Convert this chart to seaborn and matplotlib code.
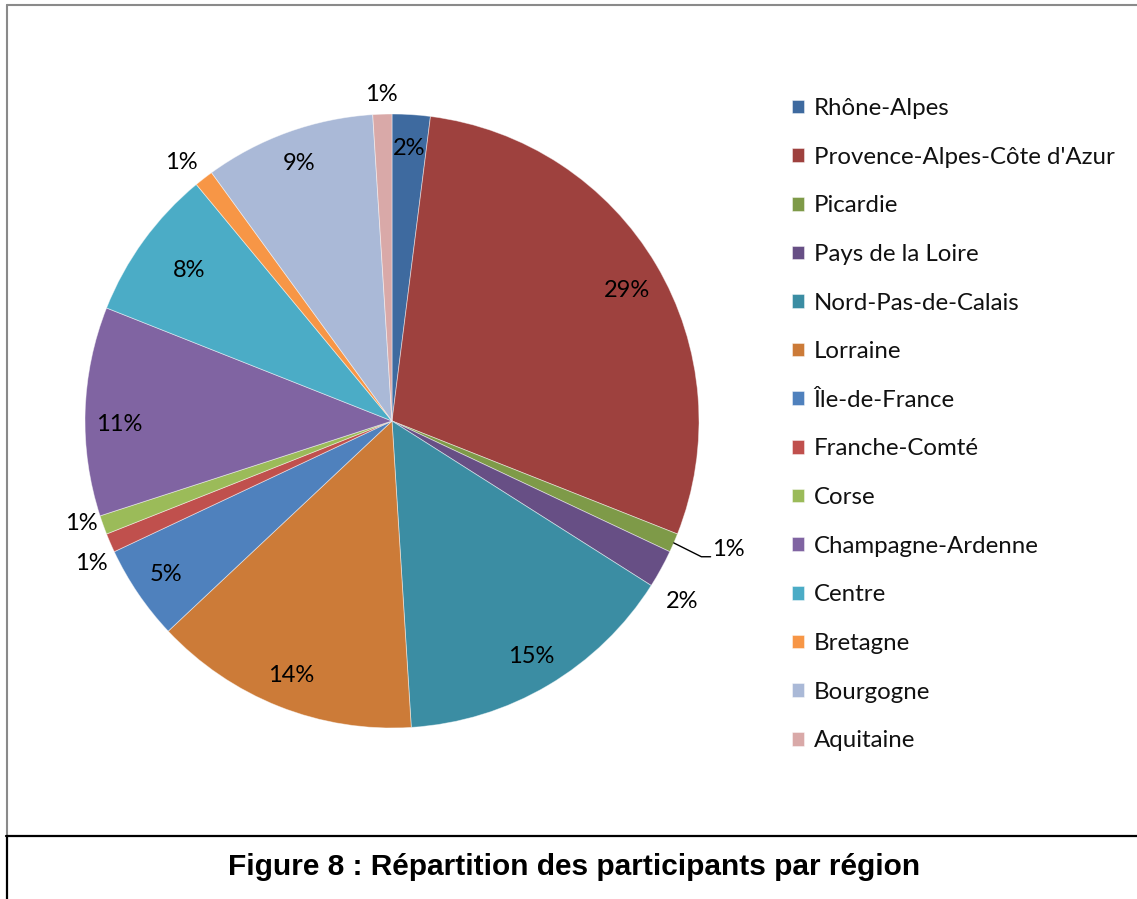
import numpy as np
import matplotlib
matplotlib.use('Agg')
import matplotlib.pyplot as plt
from matplotlib.lines import Line2D
import seaborn as sns

# Regions in clockwise order from the top of the pie
REGIONS = [
    "Rhône-Alpes", "Provence-Alpes-Côte d'Azur", "Picardie", "Pays de la Loire",
    "Nord-Pas-de-Calais", "Lorraine", "Île-de-France", "Franche-Comté", "Corse",
    "Champagne-Ardenne", "Centre", "Bretagne", "Bourgogne", "Aquitaine",
]
PERCENTS = [2, 29, 1, 2, 15, 14, 5, 1, 1, 11, 8, 1, 9, 1]
COLORS = [
    "#3E6A9F", "#9E413E", "#7E9A48", "#674F85", "#3B8DA3", "#CC7B38", "#4F81BD",
    "#C0504D", "#9BBB59", "#8064A2", "#4BACC6", "#F79646", "#AAB9D7", "#D9A9A8",
]
# small slices whose label sits outside the pie
OUTSIDE = {"Picardie", "Pays de la Loire", "Franche-Comté", "Corse", "Bretagne", "Aquitaine"}
# label nudges in pixels (x right, y up), like Excel's "best fit"
NUDGE = {"Pays de la Loire": (-3, -19), "Corse": (4, 11), "Franche-Comté": (6, -10),
         "Centre": (18, -10), "Aquitaine": (0, -8), "Bretagne": (-6, -6),
         "Provence-Alpes-Côte d'Azur": (0, -9), "Champagne-Ardenne": (0, -12)}
CAPTION = "Figure 8 : Répartition des participants par région"

W, H = 1137, 899
sns.set_theme(style="white")
plt.rcParams['font.family'] = ['Lato', 'DejaVu Sans']

fig = plt.figure(figsize=(W / 100, H / 100), dpi=100)
fig.patch.set_facecolor('white')

# pie centre (392, 421) px, radius 307 px
cx, cy, r = 392, 421, 307
ax = fig.add_axes([(cx - r) / W, (H - cy - r) / H, 2 * r / W, 2 * r / H])

palette = sns.color_palette(COLORS)
wedges, _ = ax.pie(PERCENTS, colors=palette, startangle=90, counterclock=False,
                   radius=1.0, wedgeprops=dict(edgecolor=(1, 1, 1, 0.5), linewidth=0.6))
ax.set_xlim(-1, 1)
ax.set_ylim(-1, 1)
ax.set_aspect('equal')
ax.axis('off')

PCT_SIZE = 17
for w, name, pct in zip(wedges, REGIONS, PERCENTS):
    mid = np.deg2rad((w.theta1 + w.theta2) / 2)
    txt = f"{pct}%"
    if name == "Picardie":
        ex, ey = np.cos(mid), np.sin(mid)
        ax.plot([ex, ex + 0.09, ex + 0.12], [ey, ey - 0.045, ey - 0.045],
                color='black', lw=1, clip_on=False)
        ax.text(ex + 0.125, ey - 0.02, txt, ha='left', va='center',
                fontsize=PCT_SIZE, color='black', clip_on=False)
        continue
    dist = 1.09 if name in OUTSIDE else 0.89
    dx, dy = NUDGE.get(name, (0, 0))
    ax.text(dist * np.cos(mid) + dx / r, dist * np.sin(mid) + dy / r, txt,
            ha='center', va='center', fontsize=PCT_SIZE, color='black', clip_on=False)

leg = fig.legend(wedges, REGIONS, loc='upper left', bbox_to_anchor=(792 / W, 1 - 98 / H),
                 frameon=False, fontsize=17.3, handlelength=0.5, handleheight=0.5,
                 handletextpad=0.4, labelspacing=1.15, borderaxespad=0, borderpad=0)
for t in leg.get_texts():
    t.set_color('#111111')

# frames: gray chart border, black caption box
def px_line(x0, y0, x1, y1, color, lw):
    fig.add_artist(Line2D([x0 / W, x1 / W], [1 - y0 / H, 1 - y1 / H],
                          transform=fig.transFigure, color=color, lw=lw))

px_line(7, 5, W, 5, '#8a8a8a', 1.5)
px_line(7, 5, 7, 836, '#8a8a8a', 1.5)
px_line(6, 836, W, 836, 'black', 1.6)
px_line(7, 836, 7, H, 'black', 1.6)

fig.text(574 / W, 1 - 867 / H, CAPTION, ha='center', va='center', fontsize=21.5,
         fontweight='bold', family=['Liberation Sans', 'DejaVu Sans'], color='black')

fig.savefig('out.png', dpi=100, facecolor='white')
